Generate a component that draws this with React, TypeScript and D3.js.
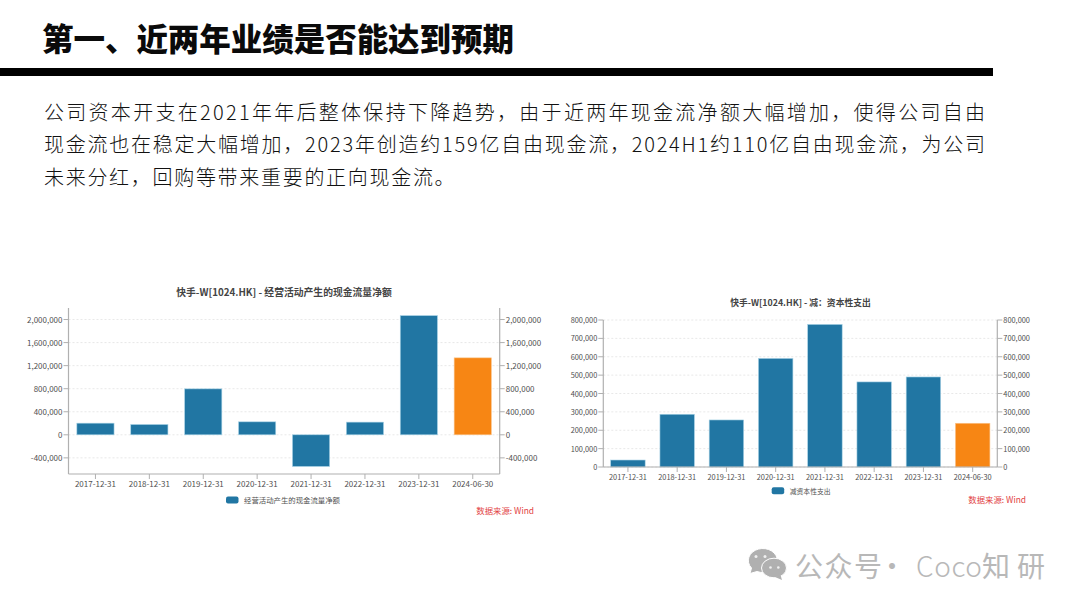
import React from "react";
import * as d3 from "d3";

const categories = ["2017-12-31","2018-12-31","2019-12-31","2020-12-31","2021-12-31","2022-12-31","2023-12-31","2024-06-30"];
const cashFlowValues = [202000,179000,797000,225000,-549000,220000,2068000,1335000];
const capexValues = [38000,287000,256000,591000,776000,463000,490000,238000];
const cashFlowTicks = [-400000,0,400000,800000,1200000,1600000,2000000];
const capexTicks = [0,100000,200000,300000,400000,500000,600000,700000,800000];
const bodyLines = [
  "公司资本开支在2021年年后整体保持下降趋势，由于近两年现金流净额大幅增加，使得公司自由",
  "现金流也在稳定大幅增加，2023年创造约159亿自由现金流，2024H1约110亿自由现金流，为公司",
  "未来分红，回购等带来重要的正向现金流。",
];
const heading = "第一、近两年业绩是否能达到预期";

const CJK = "'Noto Sans CJK SC','Noto Sans',sans-serif";
const BLUE = "#2176a3";
const ORANGE = "#f78614";
const fmt = d3.format(",");

type ChartProps = {
  values: number[]; ticks: number[]; domain: [number, number];
  left: number; right: number; top: number; bottom: number;
  title: string; titleX: number; titleY: number; legend: string; legendX: number; legendY: number;
  legendW: number; labelY: number; sourceX: number; sourceY: number; barPad: number; titleSize: number; labelSize: number;
};

function Chart(p: ChartProps) {
  const x = d3.scaleBand<string>().domain(categories).range([p.left, p.right]).paddingInner(p.barPad).paddingOuter(p.barPad / 2);
  const y = d3.scaleLinear().domain(p.domain).range([p.bottom, p.top]);
  const axis = "#b0b0b0";
  const txt = "#505050";
  return (
    <g fontFamily={CJK}>
      <text x={p.titleX} y={p.titleY} textAnchor="middle" dominantBaseline="central" fontSize={p.titleSize} fontWeight={700} fill="#444">{p.title}</text>
      {p.ticks.map(t => (
        <line key={t} x1={p.left} x2={p.right} y1={y(t)} y2={y(t)} stroke="#e2e2e2" strokeWidth={0.8} strokeDasharray="2 2" />
      ))}
      {categories.map((c, i) => {
        const v = p.values[i];
        return <rect key={c} x={x(c)} width={x.bandwidth()} y={y(Math.max(v, 0))} height={Math.abs(y(v) - y(0))}
          fill={i === categories.length - 1 ? ORANGE : BLUE} stroke={i === categories.length - 1 ? "#fbc48c" : "#a9d3e6"} strokeWidth={0.6} />;
      })}
      <line x1={p.left} x2={p.left} y1={p.top} y2={p.bottom} stroke={axis} strokeWidth={1.2} />
      <line x1={p.right} x2={p.right} y1={p.top} y2={p.bottom} stroke={axis} strokeWidth={1.2} />
      <line x1={p.left} x2={p.right} y1={p.bottom} y2={p.bottom} stroke={axis} strokeWidth={1.2} />
      {p.ticks.map(t => (
        <g key={t} fontSize={p.labelSize} fill={txt}>
          <line x1={p.left - 5} x2={p.left} y1={y(t)} y2={y(t)} stroke={axis} />
          <line x1={p.right} x2={p.right + 5} y1={y(t)} y2={y(t)} stroke={axis} />
          <text x={p.left - 6} y={y(t) - 0.5} textAnchor="end" dominantBaseline="central">{fmt(t).replace("−", "-")}</text>
          <text x={p.right + 6} y={y(t) - 0.5} dominantBaseline="central">{fmt(t).replace("−", "-")}</text>
        </g>
      ))}
      {categories.map(c => {
        const cx = x(c)! + x.bandwidth() / 2;
        return (
          <g key={c}>
            <line x1={cx} x2={cx} y1={p.bottom} y2={p.bottom + 5} stroke={axis} />
            <text x={cx} y={p.labelY} textAnchor="middle" dominantBaseline="central" fontSize={p.labelSize} fill={txt}>{c}</text>
          </g>
        );
      })}
      <rect x={p.legendX} y={p.legendY - 3.5} width={12.5} height={7} rx={2} fill={BLUE} />
      <text x={p.legendX + 18} y={p.legendY} dominantBaseline="central" fontSize={7.2} fill={txt} textLength={p.legendW} lengthAdjust="spacingAndGlyphs">{p.legend}</text>
      <text x={p.sourceX} y={p.sourceY - 0.7} textAnchor="end" dominantBaseline="central" fontSize={8.4} fill="#e2413f">数据来源: Wind</text>
    </g>
  );
}

export default function App() {
  return (
    <svg width={1080} height={608} viewBox="0 0 1080 608" style={{ position: "absolute", left: 0, top: 0, display: "block", background: "#fff" }}>
      <text x={42} y={36.5} dominantBaseline="central" fontFamily={CJK} fontWeight={900} fontSize={31.5} fill="#0a0a0a" textLength={472} lengthAdjust="spacing">{heading}</text>
      <rect x={0} y={68} width={993} height={8} fill="#000" />
      {bodyLines.map((l, i) => (
        <text key={i} x={44} y={111.5 + i * 32.3} dominantBaseline="central" fontFamily={CJK} fontWeight={300} fontSize={20} fill="#111"
          letterSpacing={i === 2 ? 1.7 : undefined} textLength={i === 2 ? undefined : 941} lengthAdjust="spacing">{l}</text>
      ))}
      <Chart values={cashFlowValues} ticks={cashFlowTicks} domain={[-680000, 2200000]} left={68.5} right={499.7} top={308} bottom={474}
        title="快手-W[1024.HK] - 经营活动产生的现金流量净额" titleX={284} titleY={291.5} titleSize={9.8} labelSize={8}
        legend="经营活动产生的现金流量净额" legendX={226} legendY={500} legendW={96} labelY={483.5} sourceX={534} sourceY={510.5} barPad={0.31} />
      <Chart values={capexValues} ticks={capexTicks} domain={[0, 800000]} left={603.3} right={997.3} top={320} bottom={467}
        title="快手-W[1024.HK] - 减：资本性支出" titleX={800.5} titleY={302.5} titleSize={8.8} labelSize={7.4}
        legend="减资本性支出" legendX={771.7} legendY={490.7} legendW={41} labelY={476} sourceX={1026} sourceY={499.7} barPad={0.3} />
      <g fill="#b0b0b0" stroke="#fff" strokeWidth={1} strokeLinejoin="round">
        <path d="M750 573.5 L751.5 568 A14.5 12 0 1 1 757 571.5 Z" />
        <ellipse cx={774} cy={568} rx={12.5} ry={9.8} />
      </g>
      <path d="M782 580 L780.5 575 L775 577 Z" fill="#b0b0b0" />
      <g fill="#f0f0f0">
        <circle cx={756} cy={556.5} r={1.5} /><circle cx={765} cy={556.5} r={1.5} />
        <circle cx={770.5} cy={567.5} r={1.3} /><circle cx={778.3} cy={567.5} r={1.3} />
      </g>
      <g fontFamily={CJK} fontSize={28} fill="#b8b8b8" dominantBaseline="central">
        <text x={795} y={564.5} dominantBaseline="central" textLength={87} lengthAdjust="spacing">公众号</text>
        <text x={892} y={564.5} dominantBaseline="central" textAnchor="middle">·</text>
        <text x={916} y={564.5} dominantBaseline="central" fontWeight={300} textLength={66} lengthAdjust="spacing">Coco</text>
        <text x={982} y={564.5} dominantBaseline="central" textLength={63} lengthAdjust="spacing">知研</text>
      </g>
    </svg>
  );
}
